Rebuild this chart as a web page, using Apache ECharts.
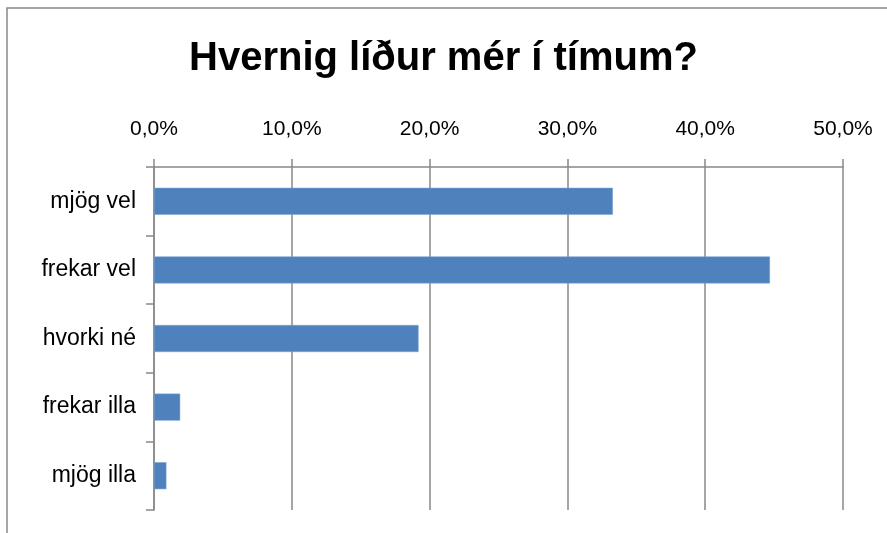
<!DOCTYPE html>
<html>
<head>
<meta charset="utf-8">
<script src="https://cdn.jsdelivr.net/npm/echarts@6/dist/echarts.min.js"></script>
<style>
  html, body { margin: 0; padding: 0; background: #fff; }
  #main { width: 887px; height: 533px; }
</style>
</head>
<body>
<div id="main"></div>
<script>
var categories = ['mjög vel', 'frekar vel', 'hvorki né', 'frekar illa', 'mjög illa'];
var values = [0.333, 0.447, 0.192, 0.019, 0.009];
var tickMax = 0.5;
var tickStep = 0.1;

var font = '"Liberation Sans", "Open Sans", sans-serif';
var gray = '#888888';

var myChart = echarts.init(document.getElementById('main'));

var option = {
    animation: false,
    backgroundColor: '#ffffff',
    title: {
        text: 'Hvernig líður mér í tímum?',
        left: 'center',
        top: 34,
        textStyle: {
            fontFamily: font,
            fontWeight: 'bold',
            fontSize: 40,
            color: '#000'
        }
    },
    graphic: [{
        type: 'rect',
        shape: { x: 7, y: 8, width: 900, height: 600 },
        style: { fill: 'none', stroke: gray, lineWidth: 1.5 },
        silent: true
    }],
    grid: {
        left: 154,
        right: 44,
        top: 167,
        bottom: 23
    },
    xAxis: {
        type: 'value',
        position: 'top',
        min: 0,
        max: tickMax,
        interval: tickStep,
        axisLine: { show: true, lineStyle: { color: gray, width: 1.5 } },
        axisTick: { show: true, length: 8, lineStyle: { color: gray, width: 1.5 } },
        splitLine: { show: true, lineStyle: { color: gray, width: 1.5 } },
        axisLabel: {
            margin: 27,
            fontFamily: font,
            fontSize: 21,
            color: '#000',
            formatter: function (v) {
                return (v * 100).toFixed(1).replace('.', ',') + '%';
            }
        }
    },
    yAxis: {
        type: 'category',
        data: categories,
        inverse: true,
        axisLine: { show: true, lineStyle: { color: gray, width: 1.5 } },
        axisTick: { show: true, length: 8, lineStyle: { color: gray, width: 1.5 } },
        axisLabel: {
            margin: 18,
            fontFamily: font,
            fontSize: 23,
            color: '#000'
        }
    },
    series: [{
        name: 'Hvernig líður mér í tímum?',
        type: 'bar',
        data: values,
        barWidth: 27,
        itemStyle: {
            color: '#4F81BD',
            borderColor: '#7fa3d0',
            borderWidth: 0.5
        }
    }]
};

myChart.setOption(option);
</script>
</body>
</html>
